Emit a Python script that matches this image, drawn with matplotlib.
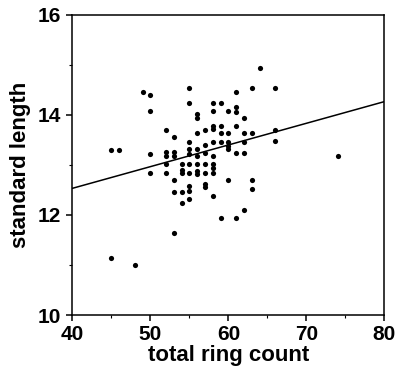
import matplotlib
matplotlib.use('Agg')
import matplotlib.pyplot as plt
from matplotlib.ticker import MultipleLocator

# values, grouped by ring count
ring_count = (
    [45, 45] + [46] + [48] + [49] + [50] * 4 + [52] * 5 + [53] * 6 +
    [54] * 5 + [55] * 10 + [56] * 8 + [57] * 7 + [58] * 10 + [59] * 5 +
    [60] * 6 + [61] * 6 + [62] * 5 + [63] * 4 + [64] + [66] * 3 + [74]
)
std_length = [
    13.30, 11.15,
    13.30,
    11.00,
    14.45,
    14.39, 14.08, 13.22, 12.84,
    13.70, 13.25, 13.17, 13.02, 12.84,
    13.55, 13.25, 13.17, 12.70, 12.46, 11.63,
    13.02, 12.90, 12.84, 12.46, 12.23,
    14.54, 14.24, 13.46, 13.32, 13.22, 13.02, 12.84, 12.57, 12.48, 12.31,
    14.02, 13.93, 13.63, 13.32, 13.18, 13.02, 12.88, 12.82,
    13.70, 13.40, 13.23, 13.02, 12.84, 12.62, 12.55,
    14.24, 14.08, 13.78, 13.72, 13.46, 13.18, 13.02, 12.93, 12.84, 12.38,
    14.24, 13.78, 13.63, 13.46, 11.93,
    14.08, 13.63, 13.46, 13.38, 13.32, 12.70,
    14.46, 14.15, 14.06, 13.78, 13.23, 11.93,
    13.93, 13.63, 13.46, 13.23, 12.10,
    14.54, 13.63, 12.70, 12.51,
    14.93,
    14.54, 13.70, 13.48,
    13.18,
]

# fitted line as drawn in the reference (y = a + b*x)
fit_x = [40, 80]
fit_intercept = 10.80
fit_slope = 0.0433

plt.rcParams['font.family'] = ['Liberation Sans', 'DejaVu Sans']
plt.rcParams['font.weight'] = 'bold'

fig = plt.figure(figsize=(3.98, 3.76), dpi=100)
ax = fig.add_axes([0.182, 0.162, 0.784, 0.799])

ax.scatter(ring_count, std_length, s=14, color='black', linewidths=0, zorder=3)
ax.plot(fit_x, [fit_intercept + fit_slope * v for v in fit_x],
        color='black', linewidth=1.1, zorder=2)

ax.set_xlim(40, 80)
ax.set_ylim(10, 16)
ax.xaxis.set_major_locator(MultipleLocator(10))
ax.xaxis.set_minor_locator(MultipleLocator(5))
ax.yaxis.set_major_locator(MultipleLocator(2))
ax.yaxis.set_minor_locator(MultipleLocator(1))
ax.tick_params(which='major', direction='out', length=4, width=1.1,
               labelsize=15)
ax.tick_params(axis='x', which='major', pad=3)
ax.tick_params(axis='y', which='major', pad=4)
ax.tick_params(which='minor', direction='out', length=2, width=0.8)
for lab in ax.get_xticklabels() + ax.get_yticklabels():
    lab.set_fontweight('bold')
for sp in ax.spines.values():
    sp.set_linewidth(1.1)

ax.set_xlabel('total ring count', fontsize=16, fontweight='bold', labelpad=1)
ax.set_ylabel('standard length', fontsize=16, fontweight='bold', labelpad=5)

fig.savefig('out.png', dpi=100)
